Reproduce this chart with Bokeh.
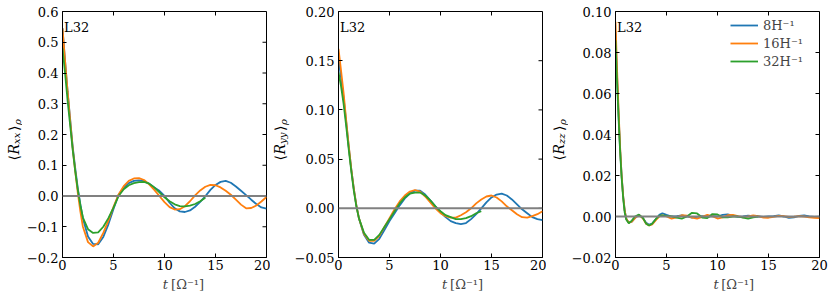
from bokeh.plotting import figure
from bokeh.models import FixedTicker, Span, Label, Range1d
from bokeh.layouts import row, column
from bokeh.embed import file_html
from bokeh.resources import INLINE

# ---------------- data ----------------
t_main = [0, 0.25, 0.5, 0.75, 1.0, 1.25, 1.5, 1.75, 2.0, 2.5, 3.0, 3.5, 4.0, 4.5, 5.0,
          5.5, 6.0, 6.5, 7.0, 7.5, 8.0, 8.5, 9.0, 9.5, 10.0, 10.5, 11.0, 11.5, 12.0,
          12.5, 13.0, 13.5, 14.0, 14.5, 15.0, 15.5, 16.0, 16.5, 17.0, 17.5, 18.0,
          18.5, 19.0, 19.5, 20.0]
t_short = t_main[:33]

rxx_8 = [0.545, 0.44, 0.34, 0.25, 0.16, 0.09, 0.025, -0.027, -0.073, -0.132, -0.156, -0.157,
         -0.133, -0.092, -0.042, 0.004, 0.027, 0.042, 0.049, 0.051, 0.049, 0.04, 0.028, 0.017,
         0.0, -0.022, -0.04, -0.05, -0.052, -0.047, -0.035, -0.019, -0.001, 0.02, 0.036,
         0.046, 0.049, 0.043, 0.031, 0.017, 0.003, -0.012, -0.026, -0.037, -0.041]
rxx_16 = [0.545, 0.44, 0.34, 0.245, 0.155, 0.08, 0.01, -0.05, -0.1, -0.15, -0.164, -0.152,
          -0.12, -0.08, -0.035, 0.005, 0.032, 0.049, 0.057, 0.058, 0.052, 0.038, 0.02, 0.0,
          -0.02, -0.036, -0.044, -0.043, -0.033, -0.017, 0.002, 0.018, 0.03, 0.036, 0.035,
          0.028, 0.017, 0.004, -0.012, -0.028, -0.04, -0.039, -0.031, -0.018, -0.003]
rxx_32 = [0.48, 0.40, 0.31, 0.23, 0.15, 0.08, 0.02, -0.03, -0.07, -0.108, -0.12, -0.118,
          -0.1, -0.072, -0.038, 0.0, 0.022, 0.035, 0.042, 0.045, 0.046, 0.04, 0.028, 0.012,
          -0.004, -0.017, -0.027, -0.033, -0.034, -0.031, -0.026, -0.017, -0.006]

ryy_8 = [0.152, 0.133, 0.112, 0.088, 0.063, 0.04, 0.02, 0.003, -0.01, -0.027, -0.035, -0.036,
         -0.031, -0.022, -0.013, -0.005, 0.003, 0.01, 0.015, 0.018, 0.018, 0.014, 0.008, 0.002,
         -0.004, -0.009, -0.013, -0.015, -0.016, -0.015, -0.011, -0.006, 0.0, 0.006, 0.011,
         0.014, 0.015, 0.013, 0.009, 0.004, -0.001, -0.005, -0.009, -0.011, -0.012]
ryy_16 = [0.162, 0.14, 0.117, 0.09, 0.064, 0.04, 0.02, 0.003, -0.01, -0.026, -0.033, -0.033,
          -0.028, -0.019, -0.01, -0.001, 0.007, 0.013, 0.017, 0.0186, 0.017, 0.012, 0.006, 0.0,
          -0.005, -0.008, -0.0095, -0.0095, -0.007, -0.004, 0.0, 0.005, 0.009, 0.012, 0.013,
          0.011, 0.007, 0.002, -0.002, -0.006, -0.009, -0.0095, -0.008, -0.006, -0.003]
ryy_32 = [0.138, 0.124, 0.106, 0.084, 0.06, 0.038, 0.018, 0.002, -0.01, -0.025, -0.032, -0.032,
          -0.027, -0.019, -0.011, -0.003, 0.005, 0.011, 0.015, 0.016, 0.016, 0.013, 0.008, 0.002,
          -0.003, -0.007, -0.009, -0.011, -0.011, -0.01, -0.008, -0.005, -0.003]

t_zz = [0, 0.15, 0.3, 0.45, 0.6, 0.75, 0.9, 1.05, 1.3, 1.6, 1.9, 2.3, 2.7, 3.0, 3.3, 3.6, 4.0,
        4.3, 4.6, 5.0, 5.5, 6.0, 6.5, 7.0, 7.5, 8.0, 8.5, 9.0, 9.5, 10.0, 10.5, 11.0, 11.5,
        12.0, 12.5, 13.0, 13.5, 14.0, 14.5, 15.0, 15.5, 16.0, 16.5, 17.0, 17.5, 18.0, 18.5,
        19.0, 19.5, 20.0]
t_zz_short = t_zz[:38]

rzz_8 = [0.09, 0.069, 0.05, 0.033, 0.02, 0.01, 0.003, -0.001, -0.003, -0.0025, -0.0008, 0.0008,
         -0.0008, -0.003, -0.004, -0.0035, -0.001, 0.0008, 0.0016,
         0.0008, 0.0, 0.0002, 0.0005, 0.0, -0.0006, -0.0002, 0.0002, -0.0002, 0.0002, 0.0,
         0.0008, 0.001, 0.0004, -0.0002, 0.0, 0.0004, 0.0002, 0.0, -0.0002, 0.0, 0.0002,
         0.0005, 0.0, -0.0007, -0.0004, 0.0003, 0.0005, 0.0, -0.0002, -0.0001]
rzz_16 = [0.095, 0.072, 0.052, 0.034, 0.02, 0.01, 0.003, -0.001, -0.003, -0.0025, -0.0008, 0.0008,
          -0.001, -0.0035, -0.0044, -0.0038, -0.0015, 0.0, 0.0005,
          0.0, -0.001, -0.0004, 0.0006, 0.0004, -0.0006, -0.001, -0.0002, 0.0008, 0.0002, -0.001,
          -0.0004, 0.0006, 0.0008, 0.0002, -0.0004, 0.0, 0.0005, 0.0002, -0.0005, -0.0006,
          -0.0002, 0.0003, 0.0002, -0.0002, -0.0001, 0.0002, 0.0, -0.0004, -0.0006, -0.0008]
rzz_32 = [0.086, 0.066, 0.048, 0.032, 0.019, 0.009, 0.002, -0.0015, -0.0033, -0.002, 0.0, 0.0009,
          -0.0008, -0.0035, -0.0044, -0.0035, -0.001, 0.0004, 0.0006,
          0.0003, 0.0001, -0.0005, -0.001, 0.0, 0.0018, 0.0015, -0.0005, -0.0008, 0.0012, 0.001,
          -0.0004, -0.0004, 0.0, 0.0, -0.0006, -0.001, -0.0004, 0.0]

series_names = ["8H\u207b\u00b9", "16H\u207b\u00b9", "32H\u207b\u00b9"]
colors = ["#1f77b4", "#ff7f0e", "#2ca02c"]

x_ticks = [0, 5, 10, 15, 20]
x_tick_labels = ["0", "5", "10", "15", "20"]

yxx_ticks = [-0.2, -0.1, 0.0, 0.1, 0.2, 0.3, 0.4, 0.5, 0.6]
yxx_labels = ["\u22120.2", "\u22120.1", "0.0", "0.1", "0.2", "0.3", "0.4", "0.5", "0.6"]
yyy_ticks = [-0.05, 0.0, 0.05, 0.1, 0.15, 0.2]
yyy_labels = ["\u22120.05", "0.00", "0.05", "0.10", "0.15", "0.20"]
yzz_ticks = [-0.02, 0.0, 0.02, 0.04, 0.06, 0.08, 0.1]
yzz_labels = ["\u22120.02", "0.00", "0.02", "0.04", "0.06", "0.08", "0.10"]

panel_tag = "L32"
ylabel_subs = ["xx", "yy", "zz"]
xlabel_parts = ["t", "[\u03a9\u207b\u00b9]"]

# ---------------- styling ----------------
FONT = "DejaVu Serif"
FS = "13px"
FW, FH = 204, 246
TOP, BOT = 11, 19
H = 296


def px2data(xr, yr, dx, dy):
    """dx pixels right of frame left, dy pixels below frame top -> data coords"""
    x = xr[0] + dx * (xr[1] - xr[0]) / FW
    y = yr[1] - dy * (yr[1] - yr[0]) / FH
    return x, y


def blank(width, height):
    f = figure(width=width, height=height, x_range=Range1d(0, width), y_range=Range1d(0, height),
               output_backend="svg", toolbar_location=None,
               min_border=0, min_border_left=0, min_border_right=0,
               min_border_top=0, min_border_bottom=0)
    f.axis.visible = False
    f.grid.visible = False
    f.outline_line_color = None
    f.background_fill_color = "white"
    f.border_fill_color = "white"
    return f


def ylabel_fig(width, base_x, sub):
    f = blank(width, H)
    pieces = [("\u27e8", "14px", "normal", 0, 6.0),
              ("R", "14px", "italic", 0, 10.5),
              (sub, "10px", "italic", 3, 13.0),
              ("\u27e9", "14px", "normal", 0, 6.0),
              ("\u03c1", "10px", "italic", 4, 6.5)]
    total = sum(pc[4] for pc in pieces)
    yc = H - 139
    cum = 0
    for txt, fs, st, shift, adv in pieces:
        f.add_layout(Label(x=base_x + shift, y=yc - total / 2 + cum, text=txt, text_font=FONT,
                           text_font_size=fs, text_font_style=st, angle=90, angle_units="deg",
                           text_align="left", text_baseline="alphabetic", text_color="black"))
        cum += adv
    return f


def xlabel_fig(width, xc):
    f = blank(width, H - TOP - FH - BOT)
    f.add_layout(Label(x=xc - 20, y=12, text=xlabel_parts[0], text_font=FONT, text_font_style="italic",
                       text_font_size=FS, text_align="left", text_baseline="alphabetic"))
    f.add_layout(Label(x=xc - 10, y=12, text=xlabel_parts[1], text_font=FONT,
                       text_font_size=FS, text_align="left", text_baseline="alphabetic"))
    return f


def make_panel(yr, yticks, ylabels, series, min_left, min_right, legend=False):
    xr = (0, 20)
    p = figure(frame_width=FW, frame_height=FH, x_range=Range1d(*xr), y_range=Range1d(*yr),
               output_backend="svg", toolbar_location=None,
               min_border_left=min_left, min_border_right=min_right,
               min_border_top=TOP, min_border_bottom=BOT)
    p.xgrid.visible = False
    p.ygrid.visible = False
    p.outline_line_color = "black"
    p.outline_line_alpha = 1.0
    p.outline_line_width = 1
    p.background_fill_color = "white"
    p.border_fill_color = "white"

    for ax, ticks, labels in ((p.xaxis[0], x_ticks, x_tick_labels), (p.yaxis[0], yticks, ylabels)):
        ax.ticker = FixedTicker(ticks=ticks)
        ax.major_label_overrides = {tk: lb for tk, lb in zip(ticks, labels)}
        ax.minor_tick_line_color = None
        ax.major_tick_in = 4
        ax.major_tick_out = 0
        ax.major_tick_line_color = "black"
        ax.axis_line_color = "black"
        ax.major_label_text_font = FONT
        ax.major_label_text_font_size = FS
        ax.major_label_text_color = "black"
    p.xaxis[0].major_label_standoff = 2
    p.yaxis[0].major_label_standoff = 4

    # inward ticks on top and right edges of the frame
    tx = 4 * (xr[1] - xr[0]) / FW
    ty = 4 * (yr[1] - yr[0]) / FH
    p.segment(x0=x_ticks, x1=x_ticks, y0=[yr[1]] * len(x_ticks), y1=[yr[1] - ty] * len(x_ticks),
              line_color="black", line_width=1)
    p.segment(x0=[xr[1]] * len(yticks), x1=[xr[1] - tx] * len(yticks), y0=yticks, y1=yticks,
              line_color="black", line_width=1)

    for (tt, yy), col, name in zip(series, colors, series_names):
        if legend:
            p.line(tt, yy, line_color=col, line_width=1.8, legend_label=name)
        else:
            p.line(tt, yy, line_color=col, line_width=1.8)

    p.add_layout(Span(location=0, dimension="width", line_color="#808080", line_width=2))

    x, y = px2data(xr, yr, 1.5, 16)
    p.add_layout(Label(x=x, y=y, text=panel_tag, text_font=FONT, text_font_size=FS,
                       text_align="left", text_baseline="alphabetic", text_color="black"))

    if legend:
        lg = p.legend[0]
        lg.location = (115, 188)
        lg.border_line_color = None
        lg.background_fill_alpha = 0
        lg.padding = 0
        lg.margin = 0
        lg.spacing = 2
        lg.glyph_width = 28
        lg.glyph_height = 16
        lg.label_height = 16
        lg.label_standoff = 5
        lg.label_text_font = FONT
        lg.label_text_font_size = FS
    return p


L1, R1 = 40, 4
L2, R2 = 48, 4
L3, R3 = 45, 13

p1 = make_panel((-0.2, 0.6), yxx_ticks, yxx_labels,
                [(t_main, rxx_8), (t_main, rxx_16), (t_short, rxx_32)], L1, R1)
p2 = make_panel((-0.05, 0.2), yyy_ticks, yyy_labels,
                [(t_main, ryy_8), (t_main, ryy_16), (t_short, ryy_32)], L2, R2)
p3 = make_panel((-0.02, 0.1), yzz_ticks, yzz_labels,
                [(t_zz, rzz_8), (t_zz, rzz_16), (t_zz_short, rzz_32)], L3, R3, legend=True)

W1, W2, W3 = L1 + FW + R1, L2 + FW + R2, L3 + FW + R3

layout = row(
    ylabel_fig(22, 13, ylabel_subs[0]),
    column(p1, xlabel_fig(W1, L1 + FW / 2)),
    ylabel_fig(20, 9, ylabel_subs[1]),
    column(p2, xlabel_fig(W2, L2 + FW / 2)),
    ylabel_fig(22, 12, ylabel_subs[2]),
    column(p3, xlabel_fig(W3, L3 + FW / 2)),
)
open("out.html", "w").write(file_html(layout, INLINE))
